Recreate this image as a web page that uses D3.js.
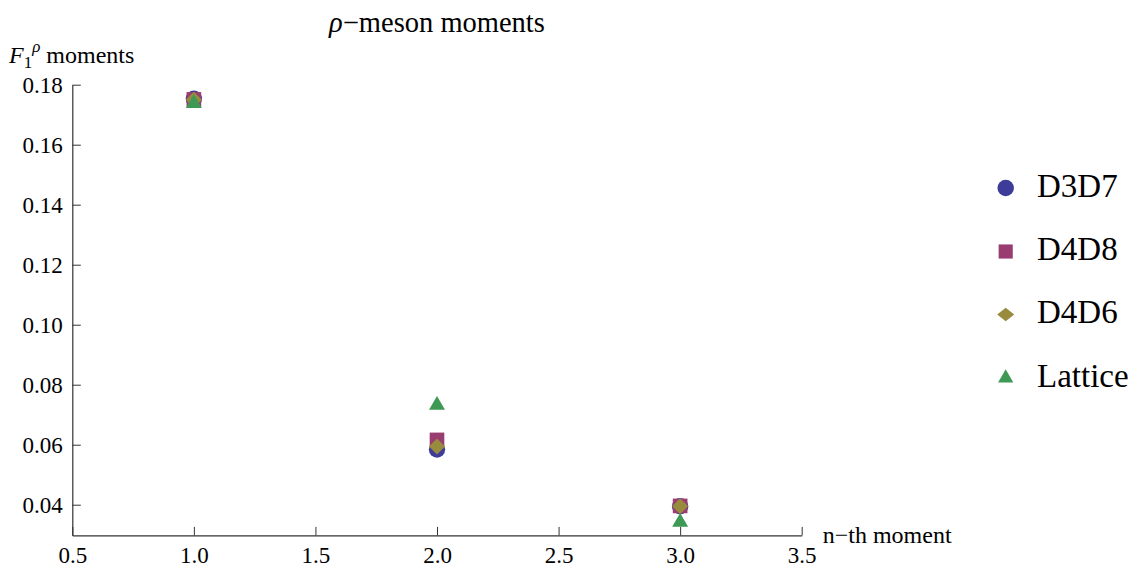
<!DOCTYPE html>
<html>
<head>
<meta charset="utf-8">
<script src="https://cdn.jsdelivr.net/npm/d3@7"></script>
<style>
  html, body { margin: 0; padding: 0; background: #fff; }
  svg { display: block; }
</style>
</head>
<body>
<svg id="chart" width="1134" height="567"></svg>
<script>
// ---- data ----
const moments = [1, 2, 3];
const seriesNames = ["D3D7", "D4D8", "D4D6", "Lattice"];
const d3d7 = [0.1753, 0.0584, 0.0395];
const d4d8 = [0.1751, 0.0616, 0.0396];
const d4d6 = [0.1750, 0.0594, 0.0395];
const lattice = [0.1738, 0.0732, 0.0342];
const xTickValues = [0.5, 1.0, 1.5, 2.0, 2.5, 3.0, 3.5];
const yTickValues = [0.04, 0.06, 0.08, 0.10, 0.12, 0.14, 0.16, 0.18];
const titleText = "meson moments";
const xLabelText = "n\u2212th moment";

// ---- styles ----
const FONT = "Liberation Serif";
const colors = ["#3d3d99", "#993d71", "#998b3d", "#3d9954"];

function diamond(hw, hh) {
  return { draw(ctx) { ctx.moveTo(0, -hh); ctx.lineTo(hw, 0); ctx.lineTo(0, hh); ctx.lineTo(-hw, 0); ctx.closePath(); } };
}
const plotShapes = [d3.symbolCircle, d3.symbolSquare, diamond(8, 8), d3.symbolTriangle];
const legendShapes = [d3.symbolCircle, d3.symbolSquare, diamond(8.5, 6.8), d3.symbolTriangle];
const plotSizes = [210, 215, 1, 110];
const legendSizes = [215, 200, 1, 100];

const svg = d3.select("#chart").attr("font-family", FONT);
const x = d3.scaleLinear().domain([0.5, 3.5]).range([72.3, 801.7]);
const y = d3.scaleLinear().domain([0.02977, 0.18]).range([535.4, 84.7]);

const axisColor = "#333";

// x axis
const gx = svg.append("g").attr("transform", `translate(0,${y.range()[0]})`);
gx.call(d3.axisBottom(x).tickValues(d3.range(0.5, 3.5001, 0.1)).tickSize(-4.5).tickSizeOuter(0).tickFormat(""));
gx.call(d3.axisBottom(x).tickValues(xTickValues).tickSize(-8.5).tickSizeOuter(0).tickPadding(11)
  .tickFormat(d3.format(".1f")));
gx.attr("font-family", FONT).attr("font-size", null);
gx.selectAll("text").style("font-size", "23px").style("font-family", FONT);
gx.selectAll("line").attr("stroke", axisColor);
gx.selectAll("path").attr("stroke", axisColor).attr("stroke-width", 1.2);

// y axis
const gy = svg.append("g").attr("transform", `translate(${x.range()[0]},0)`);
gy.call(d3.axisLeft(y).tickValues(d3.range(0.035, 0.18001, 0.005)).tickSize(-5.3).tickSizeOuter(0).tickFormat(""));
gy.call(d3.axisLeft(y).tickValues(yTickValues).tickSize(-8.5).tickSizeOuter(0).tickPadding(9.6)
  .tickFormat(d3.format(".2f")));
gy.attr("font-family", FONT).attr("font-size", null);
gy.selectAll("text").style("font-size", "23px").style("font-family", FONT);
gy.selectAll("line").attr("stroke", axisColor);
gy.selectAll("path").attr("stroke", axisColor).attr("stroke-width", 1.2);
svg.selectAll(".tick text").attr("fill", "#000");

// title
const title = svg.append("text")
  .attr("x", (x.range()[0] + x.range()[1]) / 2)
  .attr("y", 31.7)
  .attr("text-anchor", "middle")
  .style("font-family", FONT)
  .style("font-size", "28.5px");
title.append("tspan").attr("font-style", "italic").text("\u03c1");
title.append("tspan").text("\u2212" + titleText);

// y label
const yl = svg.append("text").attr("x", 9).attr("y", 63.3)
  .style("font-family", FONT).style("font-size", "24px");
yl.append("tspan").attr("font-style", "italic").text("F");
yl.append("tspan").attr("dy", 5).style("font-size", "17px").text("1");
yl.append("tspan").attr("dy", -16).attr("font-style", "italic").style("font-size", "17px").text("\u03c1");
yl.append("tspan").attr("dy", 11).text(" moments");

// x label
svg.append("text").attr("x", 822.7).attr("y", 543.3)
  .style("font-family", FONT).style("font-size", "24px").text(xLabelText);

// points
const allSeries = [d3d7, d4d8, d4d6, lattice];
allSeries.forEach((vals, i) => {
  svg.append("g").selectAll("path")
    .data(vals.map((v, j) => ({ m: moments[j], v })))
    .join("path")
    .attr("transform", d => `translate(${x(d.m)},${y(d.v)})`)
    .attr("d", d3.symbol().type(plotShapes[i]).size(plotSizes[i])())
    .attr("fill", colors[i]);
});

// legend
const legendY = [188, 251.5, 314.5, 378];
const lg = svg.append("g");
seriesNames.forEach((name, i) => {
  lg.append("path")
    .attr("transform", `translate(1005.7,${legendY[i]})`)
    .attr("d", d3.symbol().type(legendShapes[i]).size(legendSizes[i])())
    .attr("fill", colors[i]);
  lg.append("text")
    .attr("x", 1037)
    .attr("y", legendY[i] + 8.5)
    .style("font-family", FONT)
    .style("font-size", "33px")
    .text(name);
});
</script>
</body>
</html>
